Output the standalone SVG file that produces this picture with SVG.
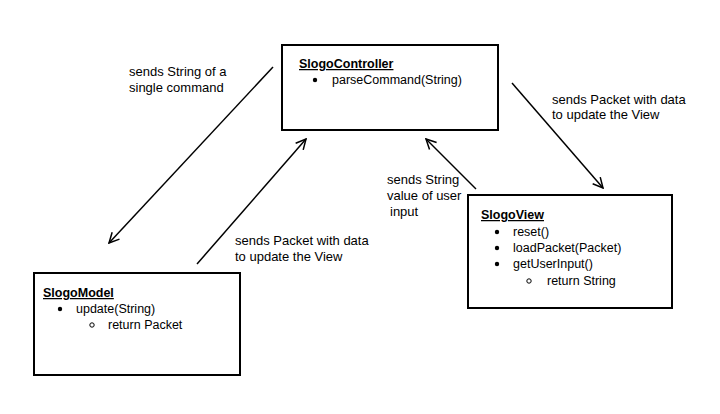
<svg xmlns="http://www.w3.org/2000/svg" width="720" height="414" viewBox="0 0 720 414">
<style>
text{font-family:"Liberation Sans",Arial,sans-serif;font-size:12.5px;fill:#000}
#labels text{font-size:13px}
.t{font-weight:bold;text-decoration:underline}
.box{fill:#fff;stroke:#000;stroke-width:2}
.c line{stroke:#000;stroke-width:1.5;marker-end:url(#ah)}
</style>
<defs>
<marker id="ah" viewBox="0 0 12 12" refX="11" refY="6" markerWidth="12" markerHeight="12" markerUnits="userSpaceOnUse" orient="auto">
<path d="M1,1 L11,6 L1,11" fill="none" stroke="#000" stroke-width="1.5"/>
</marker>
</defs>
<rect width="720" height="414" fill="#fff"/>
<g id="controller">
<rect class="box" x="282" y="45" width="216" height="85"/>
<text class="t" x="299" y="68">SlogoController</text>
<circle cx="315" cy="80" r="2.2"/>
<text x="332" y="84">parseCommand(String)</text>
</g>
<g id="view">
<rect class="box" x="468" y="195" width="204" height="113"/>
<text class="t" x="481" y="219">SlogoView</text>
<circle cx="497" cy="232" r="2.2"/>
<text x="513" y="236">reset()</text>
<circle cx="497" cy="248" r="2.2"/>
<text x="513" y="252">loadPacket(Packet)</text>
<circle cx="497" cy="264" r="2.2"/>
<text x="513" y="268">getUserInput()</text>
<circle cx="529" cy="281" r="2.2" fill="none" stroke="#000" stroke-width="1"/>
<text x="547" y="285">return String</text>
</g>
<g id="model">
<rect class="box" x="34" y="273" width="206" height="102"/>
<text class="t" x="43" y="297">SlogoModel</text>
<circle cx="60" cy="309" r="2.2"/>
<text x="76" y="313">update(String)</text>
<circle cx="92" cy="325" r="2.2" fill="none" stroke="#000" stroke-width="1"/>
<text x="108" y="329">return Packet</text>
</g>
<g id="connectors" class="c">
<line x1="273" y1="67" x2="109" y2="243"/>
<line x1="197" y1="264" x2="306" y2="139"/>
<line x1="512" y1="83" x2="603" y2="188"/>
<line x1="476" y1="189" x2="426" y2="139"/>
</g>
<g id="labels">
<text x="129" y="76">sends String of a</text>
<text x="129" y="92">single command</text>
<text x="552" y="104">sends Packet with data</text>
<text x="552" y="119">to update the View</text>
<text x="235" y="245">sends Packet with data</text>
<text x="235" y="261">to update the View</text>
<text x="387" y="184">sends String</text>
<text x="387" y="200">value of user</text>
<text x="390" y="216">input</text>
</g>
</svg>
